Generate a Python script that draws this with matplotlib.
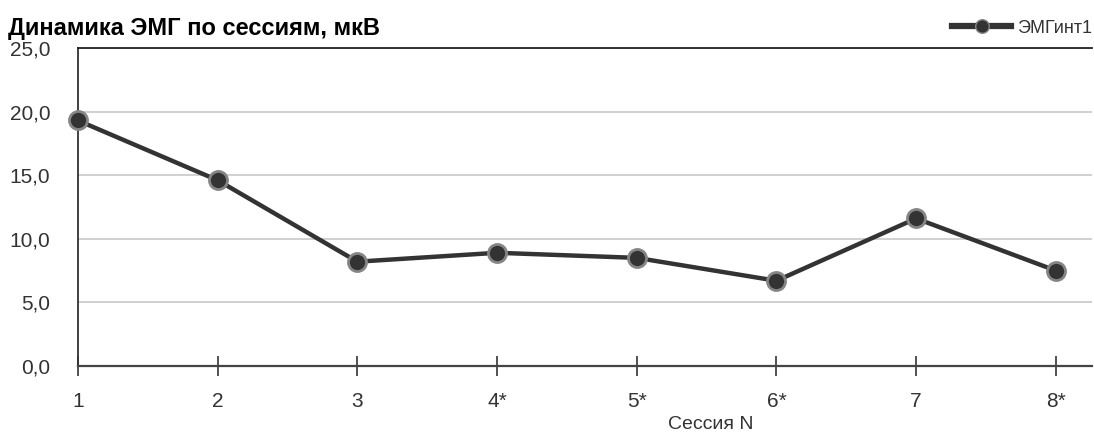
import matplotlib.pyplot as plt
from matplotlib.ticker import FuncFormatter

plt.rcParams['font.family'] = ['Liberation Sans', 'DejaVu Sans']

# Сессии и значения ЭМГ (мкВ)
sessions = [1, 2, 3, 4, 5, 6, 7, 8]
session_labels = ["1", "2", "3", "4*", "5*", "6*", "7", "8*"]
emg_values = [19.3, 14.6, 8.2, 8.9, 8.5, 6.7, 11.6, 7.5]
y_ticks = [0, 5, 10, 15, 20, 25]

fig = plt.figure(figsize=(10.94, 4.32), dpi=100)
ax = fig.add_axes([0.0713, 0.1528, 0.9267, 0.7361])

ax.plot(sessions, emg_values, color="#333333", linewidth=3.2,
        marker="o", markersize=13, markerfacecolor="#333333",
        markeredgecolor="#858585", markeredgewidth=2.0,
        label="ЭМГинт1", zorder=3, clip_on=False)

ax.set_xlim(1, 8.258)
ax.set_ylim(0, 25)
ax.set_yticks(y_ticks)
ax.yaxis.set_major_formatter(FuncFormatter(lambda v, p: f"{v:.1f}".replace(".", ",")))
ax.set_xticks(sessions)
ax.set_xticklabels(session_labels)

ax.grid(axis="y", color="#c8c8c8", linewidth=1.2)
ax.set_axisbelow(True)

ax.spines["right"].set_visible(False)
ax.spines["top"].set_color("#222222")
ax.spines["top"].set_linewidth(1.3)
ax.spines["left"].set_color("#333333")
ax.spines["left"].set_linewidth(1.3)
ax.spines["bottom"].set_color("#444444")
ax.spines["bottom"].set_linewidth(1.6)

ax.tick_params(axis="y", length=0, pad=20, labelsize=15, labelcolor="#333333")
ax.tick_params(axis="x", direction="inout", length=14, width=1.2, color="#333333",
               pad=12, labelsize=15, labelcolor="#333333")

fig.text(0.007, 0.919, "Динамика ЭМГ по сессиям, мкВ", fontsize=17,
         fontweight="bold", color="black", ha="left", va="baseline")
fig.text(0.611, 0.006, "Сессия N", fontsize=14, color="#333333",
         ha="left", va="baseline")

leg = ax.legend(loc="center right", bbox_to_anchor=(1.0, 1.062), frameon=False,
                fontsize=13, handlelength=3.3, handletextpad=0.3,
                borderaxespad=0.0, borderpad=0.0, markerscale=0.75,
                labelcolor="#333333")
for h in leg.legend_handles:
    h.set_linewidth(4.5)
    h.set_markeredgewidth(1.0)

fig.savefig("out.png", dpi=100)
